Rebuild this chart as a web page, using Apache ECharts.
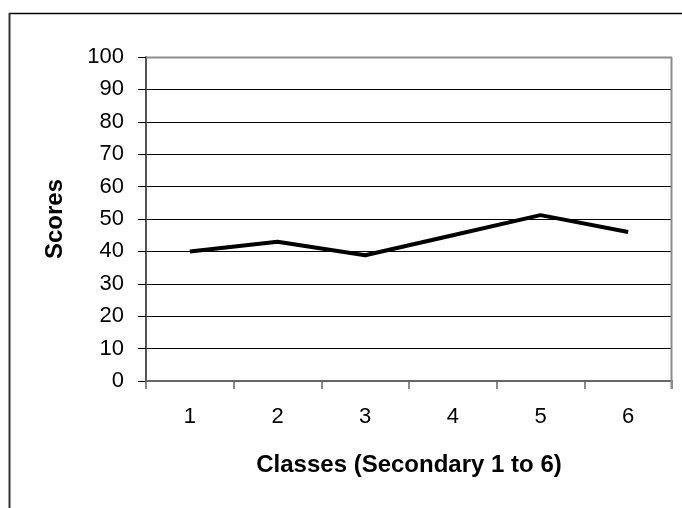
<!DOCTYPE html>
<html>
<head>
<meta charset="utf-8">
<script src="https://cdn.jsdelivr.net/npm/echarts@6/dist/echarts.min.js"></script>
<style>
  html, body { margin: 0; padding: 0; background: #fff; }
  #chart { width: 682px; height: 508px; }
</style>
</head>
<body>
<div id="chart"></div>
<script>
// Classes (Secondary 1 to 6) and their scores
const classes = ['1', '2', '3', '4', '5', '6'];
const scores = [40, 43, 38.8, 45, 51.2, 46];
const yTicks = { min: 0, max: 100, interval: 10 };

const FONT = '"Liberation Sans", Arial, sans-serif';

const chart = echarts.init(document.getElementById('chart'), null, { renderer: 'canvas' });

chart.setOption({
  animation: false,
  backgroundColor: '#ffffff',
  graphic: [
    // outer frame: top and left edges
    { type: 'line', shape: { x1: 9, y1: 13.5, x2: 682, y2: 13.5 }, style: { stroke: '#000', lineWidth: 1.5 } },
    { type: 'line', shape: { x1: 9.5, y1: 13, x2: 9.5, y2: 508 }, style: { stroke: '#333', lineWidth: 2 } },
    // plot area border: top and right
    { type: 'line', shape: { x1: 146, y1: 57.5, x2: 672, y2: 57.5 }, style: { stroke: '#8c8c8c', lineWidth: 2 }, z: 10 },
    { type: 'line', shape: { x1: 671.5, y1: 57, x2: 671.5, y2: 389 }, style: { stroke: '#8c8c8c', lineWidth: 2 }, z: 10 }
  ],
  grid: { left: 146, top: 57, right: 10, bottom: 127, containLabel: false },
  xAxis: {
    type: 'category',
    data: classes,
    boundaryGap: true,
    name: 'Classes (Secondary 1 to 6)',
    nameLocation: 'middle',
    nameGap: 72,
    nameTextStyle: { fontFamily: FONT, fontSize: 24, fontWeight: 'bold', color: '#000' },
    axisLine: { lineStyle: { color: '#666', width: 2 } },
    axisTick: { show: true, length: 8, lineStyle: { color: '#666', width: 1.5 } },
    axisLabel: { fontFamily: FONT, fontSize: 22, color: '#000', margin: 25 },
    splitLine: { show: false }
  },
  yAxis: {
    type: 'value',
    min: yTicks.min,
    max: yTicks.max,
    interval: yTicks.interval,
    name: 'Scores',
    nameLocation: 'middle',
    nameGap: 79,
    nameRotate: 90,
    nameTextStyle: { fontFamily: FONT, fontSize: 24, fontWeight: 'bold', color: '#000' },
    axisLine: { show: true, lineStyle: { color: '#555', width: 2 } },
    axisTick: { show: true, length: 8, lineStyle: { color: '#000', width: 1 } },
    axisLabel: { fontFamily: FONT, fontSize: 22, color: '#000', margin: 22 },
    splitLine: { show: true, lineStyle: { color: '#000', width: 1 } }
  },
  series: [{
    type: 'line',
    data: scores,
    symbol: 'none',
    lineStyle: { color: '#000', width: 4 },
    z: 5
  }]
});
</script>
</body>
</html>
